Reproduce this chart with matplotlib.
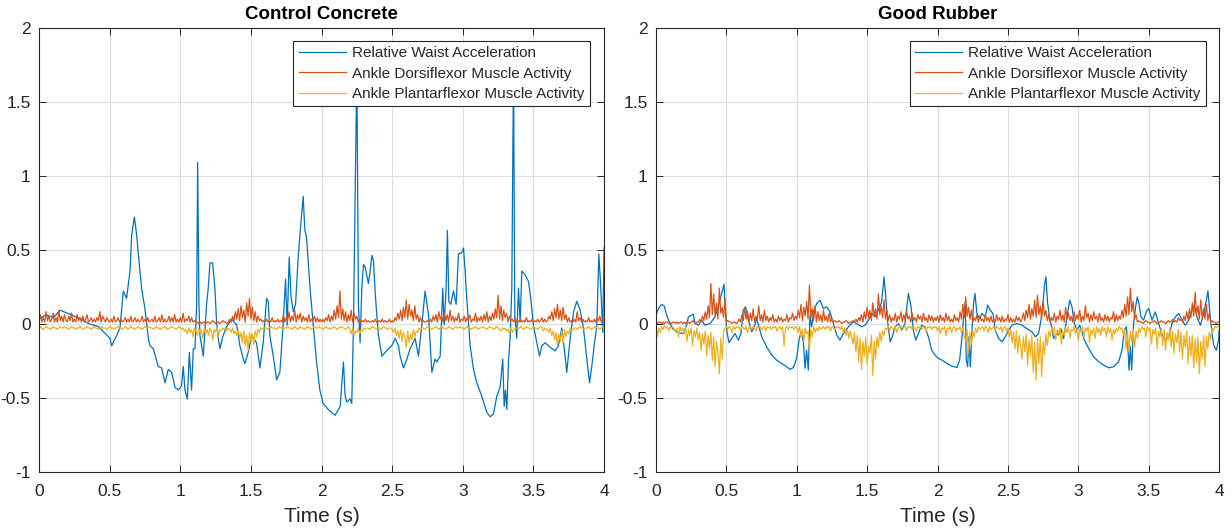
import numpy as np
import matplotlib
matplotlib.use('Agg')
import matplotlib.pyplot as plt
import matplotlib.ticker as mtick

plt.rcParams['font.family'] = ['Liberation Sans', 'DejaVu Sans']

# ---- Control Concrete: relative waist acceleration (time, value) ----
cc_t = [0.00, 0.05, 0.10, 0.15, 0.20, 0.25, 0.30, 0.35, 0.42, 0.502, 0.514, 0.55, 0.573, 0.597,
        0.62, 0.644, 0.656, 0.675, 0.691, 0.703, 0.726, 0.75, 0.774, 0.785, 0.809, 0.844, 0.868,
        0.892, 0.915, 0.939, 0.962, 0.986, 1.009, 1.021, 1.033, 1.050, 1.064, 1.080, 1.092, 1.104,
        1.116, 1.123, 1.132, 1.139, 1.163, 1.186, 1.198, 1.21, 1.229, 1.245, 1.257, 1.269, 1.281,
        1.30, 1.328, 1.363, 1.399, 1.422, 1.446, 1.458, 1.481, 1.505, 1.54, 1.564, 1.587, 1.611,
        1.623, 1.634, 1.658, 1.682, 1.705, 1.729, 1.745, 1.757, 1.771, 1.783, 1.80, 1.816, 1.835,
        1.847, 1.870, 1.882, 1.894, 1.917, 1.941, 1.965, 1.988, 2.012, 2.047, 2.096, 2.132, 2.155,
        2.167, 2.179, 2.202, 2.214, 2.226, 2.25, 2.261, 2.273, 2.285, 2.297, 2.309, 2.332, 2.344,
        2.356, 2.368, 2.379, 2.391, 2.403, 2.415, 2.427, 2.45, 2.474, 2.497, 2.521, 2.545, 2.556,
        2.58, 2.604, 2.627, 2.663, 2.686, 2.71, 2.733, 2.757, 2.781, 2.804, 2.816, 2.84, 2.858,
        2.868, 2.882, 2.891, 2.901, 2.915, 2.934, 2.953, 2.969, 2.993, 3.005, 3.017, 3.028, 3.052,
        3.076, 3.099, 3.134, 3.17, 3.194, 3.217, 3.241, 3.264, 3.283, 3.293, 3.302, 3.312, 3.323,
        3.335, 3.347, 3.359, 3.368, 3.382, 3.394, 3.406, 3.418, 3.441, 3.465, 3.481, 3.5, 3.524,
        3.543, 3.559, 3.583, 3.618, 3.654, 3.677, 3.701, 3.724, 3.736, 3.76, 3.784, 3.807, 3.831,
        3.854, 3.878, 3.897, 3.913, 3.93, 3.949, 3.963, 3.977, 3.991, 4.0]
cc_waist = [0.03, 0.06, 0.04, 0.09, 0.07, 0.05, 0.03, 0.0, -0.02, -0.10, -0.15, -0.08, -0.03, 0.22,
            0.17, 0.355, 0.60, 0.72, 0.60, 0.47, 0.24, 0.10, -0.10, -0.15, -0.17, -0.29, -0.30,
            -0.40, -0.31, -0.33, -0.43, -0.45, -0.42, -0.29, -0.45, -0.51, -0.195, -0.45, -0.17, -0.17,
            0.13, 1.09, 0.13, -0.08, -0.22, 0.13, 0.24, 0.41, 0.41, 0.24, 0.01, -0.10, -0.17,
            -0.09, -0.02, 0.03, -0.01, -0.15, -0.24, -0.27, -0.195, -0.08, -0.13, -0.30, -0.13, 0.17,
            0.15, -0.08, -0.22, -0.38, -0.33, 0.01, 0.30, -0.01, 0.45, 0.19, 0.08, 0.13, 0.45,
            0.60, 0.86, 0.63, 0.58, 0.26, -0.01, -0.26, -0.45, -0.54, -0.58, -0.62, -0.56, -0.26,
            -0.49, -0.53, -0.51, -0.54, -0.01, 1.75, 0.13, -0.13, 0.24, 0.40, 0.38, 0.27, 0.35,
            0.46, 0.42, 0.22, 0.06, -0.08, -0.15, -0.22, -0.195, -0.17, -0.15, -0.10, -0.15, -0.22,
            -0.30, -0.24, -0.17, -0.10, -0.22, -0.01, 0.22, 0.06, -0.33, -0.24, -0.26, -0.22, 0.24,
            -0.01, 0.24, 0.63, 0.15, 0.13, 0.22, 0.13, 0.47, 0.48, 0.51, 0.35, 0.17, -0.15,
            -0.31, -0.40, -0.49, -0.60, -0.63, -0.61, -0.49, -0.43, -0.24, -0.56, -0.45, -0.58, -0.26,
            -0.10, 0.24, 1.75, 0.06, -0.10, 0.24, 0.01, 0.355, 0.33, 0.285, 0.17, -0.01, -0.13,
            -0.22, -0.15, -0.13, -0.16, -0.185, -0.15, -0.03, -0.22, -0.33, -0.10, 0.08, 0.15, 0.09,
            -0.03, -0.24, -0.40, -0.29, -0.15, -0.01, 0.47, 0.24, -0.06, 0.51]

# ---- Control Concrete: muscle activity, hundredths, sampled every 0.01 s ----
cc_dorsi = [
    2, 6, 1, 4, 1, 8, 2, 5, 1, 3, 7, 1, 4, 1, 9, 2, 5, 1, 6, 2,
    1, 5, 2, 7, 1, 3, 1, 6, 2, 4, 1, 5, 1, 3, 6, 1, 2, 4, 1, 3,
    1, 4, 2, 8, 1, 5, 3, 1, 4, 2, 1, 3, 1, 5, 1, 2, 4, 1, 3, 1,
    2, 4, 1, 3, 1, 5, 1, 2, 4, 1, 3, 1, 2, 5, 1, 3, 1, 4, 1, 2,
    3, 1, 5, 1, 2, 4, 1, 6, 1, 3, 1, 2, 5, 1, 4, 1, 6, 1, 3, 1,
    4, 1, 7, 1, 3, 2, 5, 1, 4, 1, 2, 1, 1, 0, 1, 0, 1, 1, 0, 1,
    1, 0, 1, 2, 1, 0, 1, 1, 0, 1, 2, 1, 1, 0, 1, 3, 1, 5, 2, 8,
    3, 10, 2, 12, 4, 9, 1, 14, 5, 17, 3, 11, 2, 8, 1, 5, 2, 3, 1, 2,
    1, 3, 1, 2, 1, 4, 1, 2, 1, 3, 1, 2, 1, 6, 1, 4, 2, 8, 1, 5,
    2, 9, 1, 6, 3, 7, 1, 5, 2, 4, 1, 6, 1, 3, 2, 5, 1, 4, 1, 3,
    1, 3, 1, 4, 2, 6, 1, 5, 2, 9, 3, 12, 4, 22, 3, 10, 2, 8, 1, 6,
    2, 9, 1, 7, 3, 5, 1, 3, 1, 2, 1, 3, 1, 2, 1, 1, 2, 1, 3, 1,
    1, 2, 1, 3, 1, 2, 1, 1, 3, 1, 2, 1, 4, 2, 7, 3, 9, 2, 11, 4,
    16, 3, 13, 5, 9, 2, 12, 3, 6, 1, 4, 1, 2, 1, 1, 2, 1, 3, 1, 5,
    2, 6, 1, 8, 3, 5, 1, 7, 2, 6, 1, 9, 2, 5, 1, 4, 2, 7, 1, 3,
    2, 5, 1, 4, 2, 6, 1, 3, 2, 7, 1, 4, 2, 5, 1, 6, 2, 8, 1, 5,
    2, 7, 3, 10, 4, 19, 3, 12, 2, 9, 4, 7, 1, 5, 2, 3, 1, 4, 1, 2,
    1, 3, 1, 2, 1, 4, 1, 2, 1, 3, 1, 2, 1, 3, 1, 2, 4, 1, 3, 1,
    2, 5, 3, 8, 2, 10, 4, 13, 3, 9, 2, 11, 3, 6, 1, 4, 1, 2, 1, 3,
    1, 8, 2, 4, 1, 3, 1, 2, 1, 4, 1, 2, 1, 3, 1, 4, 2, 5, 1, 3,
    2]
cc_plantar = [
    -3, -2, -3, -4, -3, -2, -3, -3, -4, -3, -2, -3, -3, -4, -3, -2, -3, -3, -2, -3,
    -3, -4, -3, -2, -3, -3, -4, -3, -3, -2, -3, -4, -3, -3, -2, -3, -3, -4, -3, -2,
    -3, -3, -4, -3, -2, -3, -3, -3, -4, -3, -2, -3, -3, -4, -3, -3, -2, -3, -3, -4,
    -3, -2, -3, -4, -3, -2, -3, -3, -4, -3, -2, -3, -3, -4, -3, -2, -3, -3, -2, -3,
    -3, -4, -3, -2, -3, -3, -4, -3, -3, -2, -3, -4, -3, -3, -2, -3, -3, -4, -3, -2,
    -3, -4, -3, -5, -4, -7, -3, -6, -4, -9, -3, -5, -8, -3, -6, -4, -10, -3, -7, -4,
    -8, -3, -5, -11, -4, -6, -3, -9, -4, -5, -3, -4, -3, -5, -3, -4, -6, -3, -7, -5,
    -8, -4, -10, -6, -13, -5, -15, -8, -18, -6, -12, -7, -14, -5, -9, -4, -6, -3, -4, -3,
    -3, -3, -4, -3, -2, -3, -3, -3, -4, -3, -2, -3, -3, -4, -3, -3, -2, -3, -3, -4,
    -3, -2, -3, -4, -3, -2, -3, -3, -4, -3, -2, -3, -3, -4, -3, -2, -3, -3, -2, -3,
    -3, -4, -3, -2, -3, -3, -4, -3, -3, -2, -3, -4, -3, -3, -2, -3, -3, -4, -3, -2,
    -4, -7, -3, -8, -5, -6, -3, -7, -4, -5, -3, -4, -3, -3, -4, -3, -2, -3, -3, -4,
    -3, -3, -4, -3, -2, -3, -3, -4, -3, -3, -4, -6, -3, -8, -5, -10, -4, -12, -6, -9,
    -16, -5, -13, -7, -11, -4, -9, -5, -6, -3, -4, -3, -3, -4, -3, -2, -3, -3, -4, -3,
    -3, -2, -3, -4, -3, -2, -3, -3, -4, -3, -2, -3, -3, -4, -3, -2, -3, -3, -2, -3,
    -3, -4, -3, -2, -3, -3, -4, -3, -3, -2, -3, -4, -3, -3, -2, -3, -3, -4, -3, -2,
    -3, -3, -4, -3, -2, -3, -4, -5, -3, -4, -3, -5, -4, -7, -3, -6, -4, -3, -3, -4,
    -3, -2, -3, -4, -3, -2, -3, -3, -4, -3, -2, -3, -3, -4, -3, -2, -3, -5, -3, -4,
    -4, -6, -3, -8, -5, -11, -6, -15, -7, -12, -5, -13, -4, -9, -5, -7, -3, -5, -4, -3,
    -3, -4, -3, -2, -3, -3, -4, -3, -3, -2, -3, -4, -3, -3, -2, -3, -3, -4, -3, -2,
    -3]

# ---- Good Rubber: relative waist acceleration (time, value) ----
gr_t = [0.0, 0.017, 0.04, 0.059, 0.076, 0.099, 0.123, 0.159, 0.194, 0.218, 0.23, 0.265, 0.277,
        0.301, 0.324, 0.348, 0.384, 0.419, 0.443, 0.467, 0.483, 0.49, 0.502, 0.519, 0.538, 0.561,
        0.585, 0.604, 0.62, 0.637, 0.656, 0.68, 0.703, 0.715, 0.732, 0.751, 0.786, 0.822, 0.857,
        0.893, 0.928, 0.952, 0.976, 0.999, 1.016, 1.03, 1.047, 1.059, 1.07, 1.082, 1.094, 1.106,
        1.118, 1.142, 1.165, 1.189, 1.213, 1.236, 1.26, 1.284, 1.307, 1.331, 1.367, 1.402, 1.426,
        1.461, 1.485, 1.509, 1.532, 1.556, 1.58, 1.603, 1.62, 1.632, 1.644, 1.663, 1.679, 1.698,
        1.722, 1.745, 1.769, 1.793, 1.812, 1.828, 1.845, 1.869, 1.887, 1.911, 1.935, 1.959, 1.982,
        2.006, 2.032, 2.067, 2.103, 2.138, 2.157, 2.174, 2.185, 2.197, 2.204, 2.214, 2.223, 2.233,
        2.245, 2.256, 2.266, 2.28, 2.299, 2.316, 2.339, 2.356, 2.375, 2.394, 2.41, 2.434, 2.458,
        2.481, 2.505, 2.529, 2.564, 2.6, 2.635, 2.671, 2.695, 2.718, 2.735, 2.749, 2.761, 2.77,
        2.782, 2.796, 2.813, 2.825, 2.844, 2.86, 2.877, 2.896, 2.92, 2.939, 2.955, 2.972, 2.991,
        3.01, 3.026, 3.043, 3.074, 3.109, 3.145, 3.18, 3.216, 3.251, 3.287, 3.31, 3.327, 3.341,
        3.351, 3.36, 3.37, 3.379, 3.393, 3.407, 3.419, 3.431, 3.445, 3.464, 3.483, 3.5, 3.524,
        3.547, 3.571, 3.595, 3.618, 3.642, 3.666, 3.689, 3.713, 3.737, 3.76, 3.784, 3.808, 3.824,
        3.843, 3.867, 3.891, 3.91, 3.921, 3.933, 3.95, 3.962, 3.981, 3.997, 4.0]
gr_waist = [0.056, 0.10, 0.13, 0.118, 0.056, 0.0, -0.04, -0.062, -0.067, -0.01, 0.045, 0.063, 0.0,
            -0.011, 0.023, -0.011, 0.0, 0.045, 0.113, 0.203, 0.266, 0.136, -0.045, -0.13, -0.10, -0.067,
            -0.112, -0.067, 0.09, 0.113, 0.023, -0.056, -0.011, 0.034, -0.022, -0.09, -0.157, -0.213, -0.247,
            -0.27, -0.292, -0.31, -0.297, -0.236, -0.112, -0.056, -0.123, -0.303, -0.18, -0.315, 0.056, -0.022,
            0.079, 0.136, 0.158, 0.102, 0.113, 0.079, 0.0, -0.078, -0.112, -0.067, -0.022, 0.011, 0.0,
            -0.022, -0.011, 0.023, 0.068, 0.045, 0.09, 0.147, 0.316, 0.181, 0.023, -0.123, -0.09, -0.022,
            0.0, -0.045, 0.0, 0.203, 0.113, -0.045, -0.112, -0.056, -0.011, -0.022, -0.09, -0.18, -0.213,
            -0.236, -0.247, -0.27, -0.288, -0.297, -0.247, -0.09, 0.045, 0.147, -0.247, -0.292, -0.09, -0.292,
            -0.045, 0.136, 0.203, 0.068, 0.034, 0.068, 0.045, 0.124, 0.09, 0.068, -0.045, -0.101, -0.123,
            -0.09, -0.045, -0.011, 0.0, -0.011, -0.034, -0.056, -0.09, -0.067, 0.023, 0.136, 0.27, 0.316,
            0.136, 0.045, -0.034, -0.101, -0.067, -0.078, -0.034, -0.101, 0.045, 0.158, 0.113, 0.0, -0.045,
            -0.011, -0.056, -0.112, -0.168, -0.225, -0.258, -0.281, -0.299, -0.292, -0.258, -0.18, -0.045, -0.022,
            -0.123, -0.315, -0.157, -0.315, 0.0, 0.113, 0.18, 0.136, 0.045, 0.023, 0.079, 0.102, 0.023,
            0.079, 0.0, -0.078, -0.112, -0.09, 0.0, 0.045, 0.068, 0.023, -0.011, 0.023, 0.09, 0.124,
            0.045, -0.011, 0.068, 0.158, 0.221, 0.09, -0.067, -0.146, -0.18, -0.112, -0.045]

# ---- Good Rubber: muscle activity, hundredths, sampled every 0.01 s ----
gr_dorsi = [
    1, 0, 1, 1, 0, 1, 0, 1, 1, 0, 1, 0, 1, 1, 0, 1, 0, 1, 1, 0,
    1, 0, 1, 1, 0, 1, 2, 1, 0, 1, 1, 3, 1, 5, 2, 8, 3, 12, 4, 27,
    6, 20, 5, 14, 3, 24, 7, 11, 4, 17, 1, 2, 1, 1, 0, 1, 1, 0, 1, 3,
    1, 6, 2, 11, 3, 8, 1, 7, 2, 10, 1, 5, 3, 12, 2, 6, 1, 9, 2, 5,
    1, 4, 2, 6, 1, 3, 1, 5, 2, 4, 1, 3, 2, 6, 1, 4, 3, 7, 2, 5,
    3, 9, 4, 13, 2, 11, 5, 15, 3, 26, 4, 10, 2, 12, 1, 8, 2, 6, 1, 9,
    2, 5, 1, 7, 1, 3, 1, 2, 1, 1, 2, 1, 0, 1, 1, 2, 1, 0, 1, 1,
    2, 1, 3, 1, 4, 2, 6, 1, 8, 3, 11, 4, 9, 2, 14, 5, 10, 3, 20, 6,
    12, 4, 16, 3, 9, 2, 6, 1, 4, 2, 7, 1, 5, 3, 8, 1, 6, 2, 9, 3,
    5, 1, 7, 2, 4, 1, 6, 3, 5, 1, 7, 2, 4, 1, 6, 2, 5, 1, 4, 2,
    5, 1, 6, 2, 4, 1, 7, 2, 5, 1, 3, 1, 6, 2, 4, 1, 8, 3, 13, 4,
    18, 5, 11, 3, 9, 1, 4, 2, 6, 1, 5, 2, 3, 1, 6, 2, 4, 1, 5, 1,
    3, 1, 6, 2, 4, 1, 5, 1, 3, 2, 6, 1, 4, 1, 3, 1, 5, 2, 4, 1,
    3, 7, 2, 9, 4, 13, 3, 10, 5, 16, 4, 19, 6, 12, 3, 15, 5, 9, 2, 6,
    1, 4, 2, 7, 1, 5, 3, 9, 2, 6, 1, 11, 3, 7, 2, 5, 1, 8, 2, 6,
    3, 9, 1, 5, 2, 12, 4, 7, 1, 6, 2, 8, 3, 5, 1, 7, 2, 4, 1, 6,
    2, 5, 1, 4, 3, 8, 1, 6, 2, 5, 3, 9, 4, 13, 5, 18, 6, 24, 8, 15,
    3, 6, 1, 2, 1, 1, 0, 1, 2, 1, 1, 0, 1, 1, 2, 1, 0, 1, 1, 2,
    1, 1, 0, 1, 2, 1, 1, 3, 1, 2, 1, 4, 2, 3, 1, 5, 2, 8, 3, 10,
    4, 14, 5, 21, 6, 12, 3, 16, 4, 10, 3, 13, 2, 7, 1, 2, 1, 1, 0, 1,
    1]
gr_plantar = [
    -2, -9, -3, -6, -2, -4, -1, -3, -2, -5, -2, -3, -2, -4, -6, -3, -9, -2, -5, -3,
    -7, -2, -12, -4, -8, -3, -15, -5, -9, -3, -11, -6, -18, -7, -14, -5, -22, -8, -17, -6,
    -25, -9, -29, -12, -20, -34, -10, -24, -6, -3, -2, -4, -2, -3, -6, -2, -4, -2, -3, -2,
    -5, -2, -3, -4, -2, -6, -3, -2, -4, -2, -3, -5, -2, -3, -2, -4, -3, -2, -5, -2,
    -3, -2, -4, -2, -3, -2, -5, -3, -2, -4, -2, -15, -3, -2, -4, -2, -3, -2, -4, -2,
    -3, -6, -2, -9, -4, -12, -3, -7, -5, -18, -4, -9, -2, -6, -3, -5, -2, -4, -3, -2,
    -4, -2, -3, -2, -5, -2, -3, -4, -2, -3, -2, -4, -2, -6, -3, -8, -4, -10, -5, -9,
    -14, -6, -19, -8, -26, -10, -31, -12, -22, -9, -28, -15, -20, -8, -35, -12, -24, -9, -16, -6,
    -12, -5, -8, -3, -4, -2, -5, -2, -3, -4, -2, -6, -3, -2, -4, -2, -3, -2, -5, -2,
    -3, -2, -4, -2, -3, -5, -2, -3, -2, -4, -2, -3, -5, -2, -3, -2, -4, -2, -3, -2,
    -5, -2, -7, -3, -4, -2, -8, -3, -4, -2, -6, -3, -2, -5, -3, -4, -2, -6, -3, -9,
    -12, -4, -20, -6, -14, -5, -9, -3, -6, -2, -4, -3, -2, -5, -2, -3, -6, -2, -4, -3,
    -2, -5, -2, -3, -4, -2, -6, -3, -2, -5, -3, -9, -4, -13, -6, -17, -5, -20, -8, -14,
    -24, -9, -19, -7, -28, -11, -22, -8, -33, -13, -38, -10, -27, -9, -36, -12, -21, -7, -15, -5,
    -9, -3, -6, -2, -11, -4, -7, -3, -14, -5, -8, -3, -6, -2, -10, -4, -5, -2, -7, -3,
    -12, -4, -6, -2, -9, -3, -5, -2, -13, -4, -7, -3, -10, -2, -6, -3, -8, -2, -5, -3,
    -9, -2, -6, -3, -11, -4, -7, -3, -5, -2, -4, -3, -8, -4, -17, -6, -19, -5, -12, -4,
    -16, -5, -10, -3, -6, -2, -4, -3, -9, -2, -5, -3, -14, -4, -7, -3, -17, -5, -9, -3,
    -15, -4, -18, -6, -11, -3, -16, -5, -20, -7, -13, -4, -19, -6, -24, -8, -16, -5, -27, -9,
    -22, -8, -30, -10, -26, -9, -34, -12, -24, -8, -29, -9, -17, -6, -11, -3, -5, -2, -3, -2,
    -2]

titles = ['Control Concrete', 'Good Rubber']
labels = ['Relative Waist Acceleration', 'Ankle Dorsiflexor Muscle Activity',
          'Ankle Plantarflexor Muscle Activity']
colors = ['#0072BD', '#D95319', '#EDB120']
ink = '#262626'

panels = [(cc_t, cc_waist, cc_dorsi, cc_plantar),
          (gr_t, gr_waist, gr_dorsi, gr_plantar)]

fig = plt.figure(figsize=(12.31, 5.31), dpi=100)
ax_pos = [[0.0317, 0.112, 0.459, 0.836], [0.5329, 0.112, 0.4574, 0.836]]
leg_anchor = [(0.975, 0.970), (0.977, 0.970)]

fmt = mtick.FuncFormatter(lambda v, p: '{:g}'.format(v).replace('\u2212', '-'))

for i, (t, waist, dorsi, plantar) in enumerate(panels):
    ax = fig.add_axes(ax_pos[i])
    ax.plot(t, waist, color=colors[0], lw=0.9, label=labels[0])
    ax.plot(np.linspace(0, 4, len(dorsi)), np.array(dorsi) / 100.0, color=colors[1],
            lw=0.9, label=labels[1])
    ax.plot(np.linspace(0, 4, len(plantar)), np.array(plantar) / 100.0, color=colors[2],
            lw=0.9, label=labels[2])

    ax.set_xlim(0, 4)
    ax.set_ylim(-1, 2)
    ax.set_xticks(np.arange(0, 4.01, 0.5))
    ax.set_yticks(np.arange(-1, 2.01, 0.5))
    ax.xaxis.set_major_formatter(fmt)
    ax.yaxis.set_major_formatter(fmt)
    ax.grid(True, color='#dedede', lw=0.8)
    ax.set_axisbelow(True)
    ax.tick_params(direction='in', top=True, right=True, length=5, width=0.7,
                   colors=ink, labelsize=12.5)
    ax.tick_params(axis='x', pad=9)
    ax.tick_params(axis='y', pad=6)
    for s in ax.spines.values():
        s.set_color(ink)
        s.set_linewidth(0.8)
    ax.set_xlabel('Time (s)', fontsize=15, color=ink, labelpad=6)
    ax.set_title(titles[i], fontsize=13.5, fontweight='bold', color='black', pad=6)
    leg = ax.legend(loc='upper right', bbox_to_anchor=leg_anchor[i], borderaxespad=0,
                    fontsize=11, handlelength=3.1, handletextpad=0.4, labelspacing=0.42,
                    borderpad=0.35, fancybox=False, framealpha=1, edgecolor=ink)
    leg.get_frame().set_linewidth(0.8)
    for txt in leg.get_texts():
        txt.set_color(ink)

fig.savefig('out.png', dpi=100)
